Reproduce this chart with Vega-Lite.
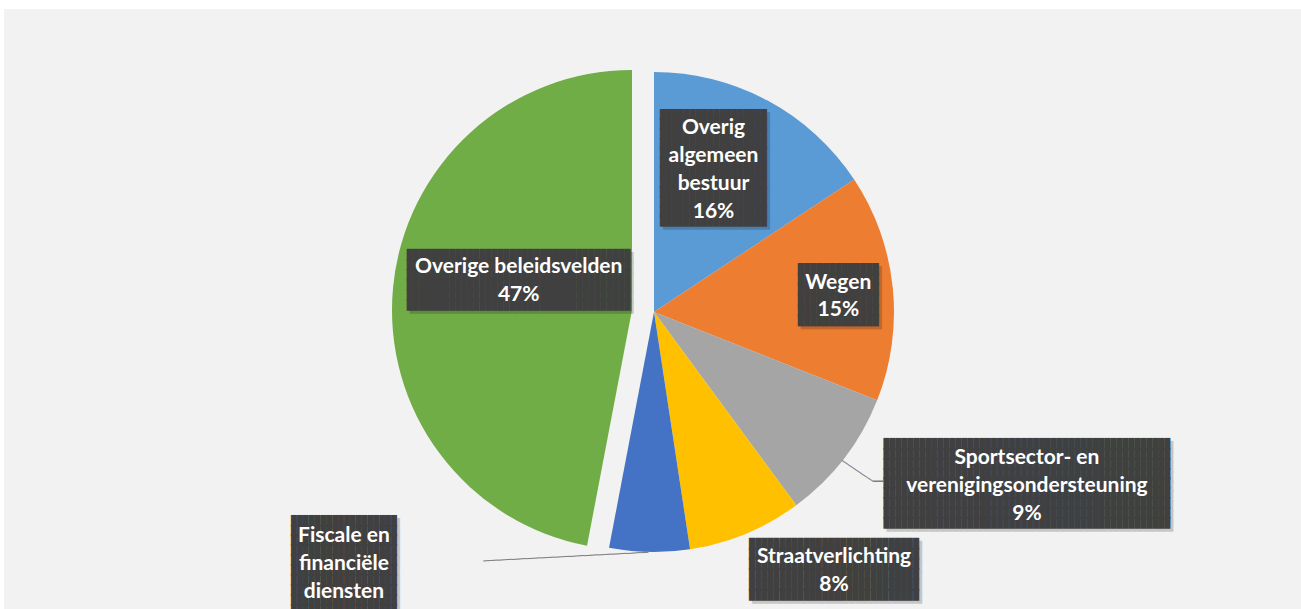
{
  "$schema": "https://vega.github.io/schema/vega-lite/v6.json",
  "width": 1297,
  "height": 600,
  "autosize": {"type": "none"},
  "padding": {"left": 4, "top": 9, "right": 0, "bottom": 0},
  "background": "white",
  "view": {"fill": "#f2f2f2", "stroke": null},
  "data": {
    "values": [
      {"k": 1, "cat": "Overig algemeen bestuur", "label": "Overig\nalgemeen\nbestuur", "value": 15.7},
      {"k": 2, "cat": "Wegen", "label": "Wegen", "value": 15.3},
      {"k": 3, "cat": "Sportsector- en verenigingsondersteuning", "label": "Sportsector- en\nverenigingsondersteuning", "value": 8.9},
      {"k": 4, "cat": "Straatverlichting", "label": "Straatverlichting", "value": 7.7},
      {"k": 5, "cat": "Fiscale en financiële diensten", "label": "Fiscale en\nfinanciële\ndiensten", "value": 5.4},
      {"k": 6, "cat": "Overige beleidsvelden", "label": "Overige beleidsvelden", "value": 47.0}
    ]
  },
  "transform": [
    {"stack": "value", "groupby": [], "sort": [{"field": "k", "order": "ascending"}], "as": ["v0", "v1"]},
    {"calculate": "(datum.v0 + datum.v1) / 2", "as": "mid"},
    {"calculate": "datum.label + '\\n' + format(datum.value / 100, '.0%')", "as": "txt"}
  ],
  "layer": [
    {
      "transform": [{"filter": "datum.k != 6"}],
      "mark": {"type": "arc", "radius": 240, "xOffset": 1.5, "yOffset": 3},
      "encoding": {
        "theta": {"field": "v0", "type": "quantitative", "scale": {"domain": [0, 100]}, "stack": null},
        "theta2": {"field": "v1"},
        "color": {
          "field": "cat", "type": "nominal", "legend": null,
          "scale": {
            "domain": ["Overig algemeen bestuur", "Wegen", "Sportsector- en verenigingsondersteuning", "Straatverlichting", "Fiscale en financiële diensten", "Overige beleidsvelden"],
            "range": ["#5b9bd5", "#ed7d31", "#a5a5a5", "#ffc000", "#4472c4", "#70ad47"]
          }
        }
      }
    },
    {
      "transform": [{"filter": "datum.k == 6"}],
      "mark": {"type": "arc", "radius": 240, "xOffset": -20.5, "yOffset": 1},
      "encoding": {
        "theta": {"field": "v0", "type": "quantitative", "scale": {"domain": [0, 100]}, "stack": null},
        "theta2": {"field": "v1"},
        "color": {"field": "cat", "type": "nominal", "legend": null}
      }
    },
    {
      "transform": [{"filter": "datum.k == 5"}],
      "mark": {"type": "text", "radius": 246.3, "xOffset": -82.1, "yOffset": 1.4, "angle": -3, "text": "───────────────────────", "font": "DejaVu Sans Mono", "fontSize": 11.93, "color": "#7f7f7f", "align": "center", "baseline": "middle"},
      "encoding": {"theta": {"field": "mid", "type": "quantitative", "scale": {"domain": [0, 100]}, "stack": null}}
    },
    {
      "transform": [{"filter": "datum.k == 3"}],
      "mark": {"type": "text", "radius": 258.3, "xOffset": 0.3, "yOffset": 4.6, "angle": 33.6, "text": "─────", "font": "DejaVu Sans Mono", "fontSize": 12.6, "color": "#7f7f7f", "align": "center", "baseline": "middle"},
      "encoding": {"theta": {"field": "mid", "type": "quantitative", "scale": {"domain": [0, 100]}, "stack": null}}
    },
    {
      "transform": [{"filter": "datum.k == 3"}],
      "mark": {"type": "text", "radius": 281.2, "xOffset": 3.0, "yOffset": 1.1, "text": "─", "font": "DejaVu Sans Mono", "fontSize": 16.6, "color": "#7f7f7f", "align": "center", "baseline": "middle"},
      "encoding": {"theta": {"field": "mid", "type": "quantitative", "scale": {"domain": [0, 100]}, "stack": null}}
    },
    {
      "transform": [{"filter": "datum.k == 1"}],
      "mark": {"type": "text", "radius": 155, "xOffset": -9.4, "yOffset": -54.7, "font": "DejaVu Sans Mono", "fontSize": 9.87, "lineHeight": 9.68, "color": "#000000", "opacity": 0.18, "align": "center", "baseline": "middle",
        "text": ["██████████████████", "██████████████████", "██████████████████", "██████████████████", "██████████████████", "██████████████████", "██████████████████", "██████████████████", "██████████████████", "██████████████████", "██████████████████", "██████████████████"]},
      "encoding": {"theta": {"field": "mid", "type": "quantitative", "scale": {"domain": [0, 100]}, "stack": null}}
    },
    {
      "transform": [{"filter": "datum.k == 2"}],
      "mark": {"type": "text", "radius": 185, "xOffset": 4.8, "yOffset": -17.05, "font": "DejaVu Sans Mono", "fontSize": 10.35, "lineHeight": 10.19, "color": "#000000", "opacity": 0.18, "align": "center", "baseline": "middle",
        "text": ["█████████████", "█████████████", "█████████████", "█████████████", "█████████████", "█████████████"]},
      "encoding": {"theta": {"field": "mid", "type": "quantitative", "scale": {"domain": [0, 100]}, "stack": null}}
    },
    {
      "transform": [{"filter": "datum.k == 3"}],
      "mark": {"type": "text", "radius": 400, "xOffset": 60.6, "yOffset": -105.9, "font": "DejaVu Sans Mono", "fontSize": 9.93, "lineHeight": 9.8, "color": "#000000", "opacity": 0.18, "align": "center", "baseline": "middle",
        "text": ["████████████████████████████████████████████████", "████████████████████████████████████████████████", "████████████████████████████████████████████████", "████████████████████████████████████████████████", "████████████████████████████████████████████████", "████████████████████████████████████████████████", "████████████████████████████████████████████████", "████████████████████████████████████████████████", "████████████████████████████████████████████████"]},
      "encoding": {"theta": {"field": "mid", "type": "quantitative", "scale": {"domain": [0, 100]}, "stack": null}}
    },
    {
      "transform": [{"filter": "datum.k == 4"}],
      "mark": {"type": "text", "radius": 306.6, "xOffset": 67.2, "yOffset": -45.6, "font": "DejaVu Sans Mono", "fontSize": 10.09, "lineHeight": 10.25, "color": "#000000", "opacity": 0.18, "align": "center", "baseline": "middle",
        "text": ["████████████████████████████", "████████████████████████████", "████████████████████████████", "████████████████████████████", "████████████████████████████", "████████████████████████████"]},
      "encoding": {"theta": {"field": "mid", "type": "quantitative", "scale": {"domain": [0, 100]}, "stack": null}}
    },
    {
      "transform": [{"filter": "datum.k == 5"}],
      "mark": {"type": "text", "radius": 268.8, "xOffset": -300.5, "yOffset": -54.0, "font": "DejaVu Sans Mono", "fontSize": 9.78, "lineHeight": 9.87, "color": "#000000", "opacity": 0.18, "align": "center", "baseline": "middle",
        "text": ["██████████████████", "██████████████████", "██████████████████", "██████████████████", "██████████████████", "██████████████████", "██████████████████", "██████████████████", "██████████████████", "██████████████████", "██████████████████", "██████████████████"]},
      "encoding": {"theta": {"field": "mid", "type": "quantitative", "scale": {"domain": [0, 100]}, "stack": null}}
    },
    {
      "transform": [{"filter": "datum.k == 6"}],
      "mark": {"type": "text", "radius": 115.6, "xOffset": -15.7, "yOffset": -40.3, "font": "DejaVu Sans Mono", "fontSize": 10.06, "lineHeight": 10.06, "color": "#000000", "opacity": 0.18, "align": "center", "baseline": "middle",
        "text": ["█████████████████████████████████████", "█████████████████████████████████████", "█████████████████████████████████████", "█████████████████████████████████████", "█████████████████████████████████████", "█████████████████████████████████████"]},
      "encoding": {"theta": {"field": "mid", "type": "quantitative", "scale": {"domain": [0, 100]}, "stack": null}}
    },
    {
      "transform": [{"filter": "datum.k == 1"}],
      "mark": {"type": "text", "radius": 155, "xOffset": -12.4, "yOffset": -57.7, "font": "DejaVu Sans Mono", "fontSize": 9.87, "lineHeight": 9.68, "color": "#404040", "align": "center", "baseline": "middle",
        "text": ["██████████████████", "██████████████████", "██████████████████", "██████████████████", "██████████████████", "██████████████████", "██████████████████", "██████████████████", "██████████████████", "██████████████████", "██████████████████", "██████████████████"]},
      "encoding": {"theta": {"field": "mid", "type": "quantitative", "scale": {"domain": [0, 100]}, "stack": null}}
    },
    {
      "transform": [{"filter": "datum.k == 2"}],
      "mark": {"type": "text", "radius": 185, "xOffset": 1.8, "yOffset": -20.05, "font": "DejaVu Sans Mono", "fontSize": 10.35, "lineHeight": 10.19, "color": "#404040", "align": "center", "baseline": "middle",
        "text": ["█████████████", "█████████████", "█████████████", "█████████████", "█████████████", "█████████████"]},
      "encoding": {"theta": {"field": "mid", "type": "quantitative", "scale": {"domain": [0, 100]}, "stack": null}}
    },
    {
      "transform": [{"filter": "datum.k == 3"}],
      "mark": {"type": "text", "radius": 400, "xOffset": 57.6, "yOffset": -108.9, "font": "DejaVu Sans Mono", "fontSize": 9.93, "lineHeight": 9.8, "color": "#404040", "align": "center", "baseline": "middle",
        "text": ["████████████████████████████████████████████████", "████████████████████████████████████████████████", "████████████████████████████████████████████████", "████████████████████████████████████████████████", "████████████████████████████████████████████████", "████████████████████████████████████████████████", "████████████████████████████████████████████████", "████████████████████████████████████████████████", "████████████████████████████████████████████████"]},
      "encoding": {"theta": {"field": "mid", "type": "quantitative", "scale": {"domain": [0, 100]}, "stack": null}}
    },
    {
      "transform": [{"filter": "datum.k == 4"}],
      "mark": {"type": "text", "radius": 306.6, "xOffset": 64.2, "yOffset": -48.6, "font": "DejaVu Sans Mono", "fontSize": 10.09, "lineHeight": 10.25, "color": "#404040", "align": "center", "baseline": "middle",
        "text": ["████████████████████████████", "████████████████████████████", "████████████████████████████", "████████████████████████████", "████████████████████████████", "████████████████████████████"]},
      "encoding": {"theta": {"field": "mid", "type": "quantitative", "scale": {"domain": [0, 100]}, "stack": null}}
    },
    {
      "transform": [{"filter": "datum.k == 5"}],
      "mark": {"type": "text", "radius": 268.8, "xOffset": -303.5, "yOffset": -57.0, "font": "DejaVu Sans Mono", "fontSize": 9.78, "lineHeight": 9.87, "color": "#404040", "align": "center", "baseline": "middle",
        "text": ["██████████████████", "██████████████████", "██████████████████", "██████████████████", "██████████████████", "██████████████████", "██████████████████", "██████████████████", "██████████████████", "██████████████████", "██████████████████", "██████████████████"]},
      "encoding": {"theta": {"field": "mid", "type": "quantitative", "scale": {"domain": [0, 100]}, "stack": null}}
    },
    {
      "transform": [{"filter": "datum.k == 6"}],
      "mark": {"type": "text", "radius": 115.6, "xOffset": -18.7, "yOffset": -43.3, "font": "DejaVu Sans Mono", "fontSize": 10.06, "lineHeight": 10.06, "color": "#404040", "align": "center", "baseline": "middle",
        "text": ["█████████████████████████████████████", "█████████████████████████████████████", "█████████████████████████████████████", "█████████████████████████████████████", "█████████████████████████████████████", "█████████████████████████████████████"]},
      "encoding": {"theta": {"field": "mid", "type": "quantitative", "scale": {"domain": [0, 100]}, "stack": null}}
    },
    {
      "transform": [{"filter": "datum.k == 1"}],
      "mark": {"type": "text", "radius": 155, "xOffset": -12.4, "yOffset": -44.05, "font": "Lato", "fontWeight": "bold", "fontSize": 21, "lineHeight": 27.7, "lineBreak": "\n", "color": "white", "align": "center", "baseline": "middle"},
      "encoding": {"theta": {"field": "mid", "type": "quantitative", "scale": {"domain": [0, 100]}, "stack": null}, "text": {"field": "txt"}}
    },
    {
      "transform": [{"filter": "datum.k == 2"}],
      "mark": {"type": "text", "radius": 185, "xOffset": 1.8, "yOffset": -7.35, "font": "Lato", "fontWeight": "bold", "fontSize": 21, "lineHeight": 27.7, "lineBreak": "\n", "color": "white", "align": "center", "baseline": "middle"},
      "encoding": {"theta": {"field": "mid", "type": "quantitative", "scale": {"domain": [0, 100]}, "stack": null}, "text": {"field": "txt"}}
    },
    {
      "transform": [{"filter": "datum.k == 3"}],
      "mark": {"type": "text", "radius": 400, "xOffset": 57.6, "yOffset": -95, "font": "Lato", "fontWeight": "bold", "fontSize": 21, "lineHeight": 27.7, "lineBreak": "\n", "color": "white", "align": "center", "baseline": "middle"},
      "encoding": {"theta": {"field": "mid", "type": "quantitative", "scale": {"domain": [0, 100]}, "stack": null}, "text": {"field": "txt"}}
    },
    {
      "transform": [{"filter": "datum.k == 4"}],
      "mark": {"type": "text", "radius": 306.6, "xOffset": 64.2, "yOffset": -35, "font": "Lato", "fontWeight": "bold", "fontSize": 21, "lineHeight": 27.7, "lineBreak": "\n", "color": "white", "align": "center", "baseline": "middle"},
      "encoding": {"theta": {"field": "mid", "type": "quantitative", "scale": {"domain": [0, 100]}, "stack": null}, "text": {"field": "txt"}}
    },
    {
      "transform": [{"filter": "datum.k == 5"}],
      "mark": {"type": "text", "radius": 268.8, "xOffset": -303.5, "yOffset": -41.5, "font": "Lato", "fontWeight": "bold", "fontSize": 21, "lineHeight": 27.7, "lineBreak": "\n", "color": "white", "align": "center", "baseline": "middle"},
      "encoding": {"theta": {"field": "mid", "type": "quantitative", "scale": {"domain": [0, 100]}, "stack": null}, "text": {"field": "txt"}}
    },
    {
      "transform": [{"filter": "datum.k == 6"}],
      "mark": {"type": "text", "radius": 115.6, "xOffset": -18.7, "yOffset": -30.95, "font": "Lato", "fontWeight": "bold", "fontSize": 21, "lineHeight": 27.7, "lineBreak": "\n", "color": "white", "align": "center", "baseline": "middle"},
      "encoding": {"theta": {"field": "mid", "type": "quantitative", "scale": {"domain": [0, 100]}, "stack": null}, "text": {"field": "txt"}}
    }
  ]
}
